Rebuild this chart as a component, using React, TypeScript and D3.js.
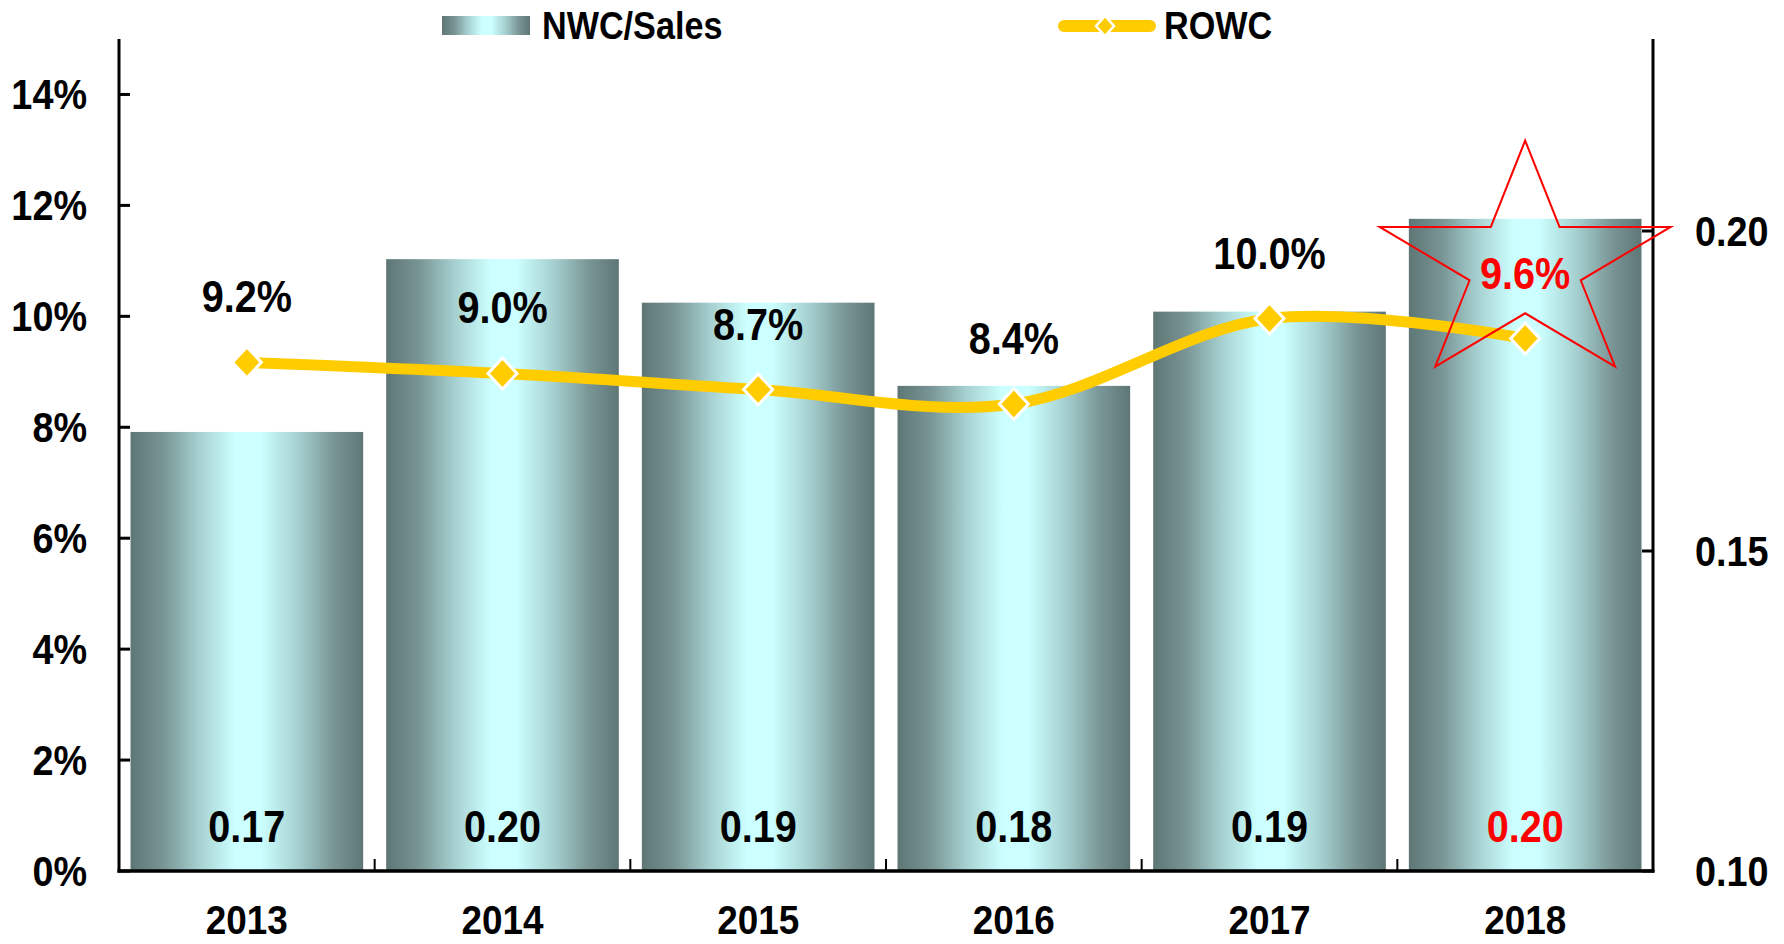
import React from "react";
import * as d3 from "d3";

const categories = ["2013", "2014", "2015", "2016", "2017", "2018"];
// Bars (right axis)
const nwcSales = [0.1686, 0.1956, 0.1888, 0.1758, 0.1874, 0.2019];
// Line (left axis, %)
const rowc = [9.17, 8.97, 8.68, 8.42, 9.96, 9.6];
const leftTicks = [0, 2, 4, 6, 8, 10, 12, 14];
const rightTicks = [0.1, 0.15, 0.2];
const highlightIndex = 5;
const legendBar = "NWC/Sales";
const legendLine = "ROWC";

const W = 1784;
const H = 944;
const FONT = "'Liberation Sans', Arial, Helvetica, sans-serif";
const SX = 0.9;

function T({ x, y, size, anchor = "middle", fill = "#000", children }: any) {
  return (
    <text
      transform={`translate(${x},${y}) scale(${SX},1)`}
      fontFamily={FONT}
      fontWeight="bold"
      fontSize={size}
      textAnchor={anchor}
      fill={fill}
    >
      {children}
    </text>
  );
}

function starPoints(cx: number, cy: number, rx: number, ry: number, ratio: number) {
  const pts: string[] = [];
  for (let i = 0; i < 10; i++) {
    const a = -Math.PI / 2 + (i * Math.PI) / 5;
    const r = i % 2 === 0 ? 1 : ratio;
    pts.push(`${cx + Math.cos(a) * rx * r},${cy + Math.sin(a) * ry * r}`);
  }
  return pts.join(" ");
}

function diamond(r: number, rh: number) {
  return `M0,${-rh}L${r},0L0,${rh}L${-r},0Z`;
}

export default function App() {
  const left = 119;
  const right = 1653;
  const top = 39;
  const bottom = 871;

  const x = d3
    .scaleBand<string>()
    .domain(categories)
    .range([left, right])
    .paddingInner(0.09)
    .paddingOuter(0.045);
  const yL = d3.scaleLinear().domain([0, 15]).range([bottom, top]);
  const yR = d3.scaleLinear().domain([0.1, 0.23]).range([bottom, top]);
  const bw = x.bandwidth();
  const cx = (c: string) => (x(c) as number) + bw / 2;

  const step = (right - left) / categories.length;
  const boundaries = d3.range(1, categories.length).map((k) => left + k * step);

  const linePath = d3
    .line<number>()
    .x((_, i) => cx(categories[i]))
    .y((v) => yL(v))
    .curve(d3.curveCardinal.tension(0))(rowc) as string;

  const hx = cx(categories[highlightIndex]);
  const hy = yL(rowc[highlightIndex]);

  return (
    <svg
      width={W}
      height={H}
      style={{ position: "absolute", left: 0, top: 0, background: "#fff" }}
    >
      <defs>
        <linearGradient id="barGrad" x1="0" x2="1" y1="0" y2="0">
          <stop offset="0" stopColor="#5E7676" />
          <stop offset="0.14" stopColor="#789494" />
          <stop offset="0.3" stopColor="#A8D2D2" />
          <stop offset="0.45" stopColor="#CCFFFF" />
          <stop offset="0.56" stopColor="#CCFFFF" />
          <stop offset="0.72" stopColor="#A6D0D0" />
          <stop offset="0.87" stopColor="#7A9696" />
          <stop offset="1" stopColor="#5E7676" />
        </linearGradient>
      </defs>

      {/* bars */}
      {categories.map((c, i) => (
        <rect
          key={c}
          x={x(c)}
          y={yR(nwcSales[i])}
          width={bw}
          height={bottom - yR(nwcSales[i])}
          fill="url(#barGrad)"
        />
      ))}

      {/* axes */}
      <line x1={left} x2={left} y1={top} y2={bottom + 1.5} stroke="#000" strokeWidth={3} />
      <line x1={right} x2={right} y1={top} y2={bottom + 1.5} stroke="#000" strokeWidth={3} />
      <line x1={left - 1.5} x2={right + 1.5} y1={bottom} y2={bottom} stroke="#000" strokeWidth={3.5} />
      {leftTicks.map((t) => (
        <g key={"lt" + t}>
          <line x1={left} x2={left + 11} y1={yL(t)} y2={yL(t)} stroke="#000" strokeWidth={3} />
          <T x={87} y={yL(t) + 15} size={42} anchor="end">{`${t}%`}</T>
        </g>
      ))}
      {rightTicks.map((t) => (
        <g key={"rt" + t}>
          <line x1={right - 11} x2={right} y1={yR(t)} y2={yR(t)} stroke="#000" strokeWidth={3} />
          <T x={1695} y={yR(t) + 15} size={42} anchor="start">{t.toFixed(2)}</T>
        </g>
      ))}
      {boundaries.map((b, k) => (
        <line key={"bt" + k} x1={b} x2={b} y1={bottom} y2={bottom - 12} stroke="#000" strokeWidth={2} />
      ))}
      {categories.map((c) => (
        <T key={"xl" + c} x={cx(c)} y={934} size={41}>{c}</T>
      ))}

      {/* line */}
      <path d={linePath} fill="none" stroke="#FFCC00" strokeWidth={11} strokeLinecap="round" />
      {rowc.map((v, i) => (
        <path
          key={"m" + i}
          d={diamond(14.5, 15.5)}
          transform={`translate(${cx(categories[i])},${yL(v)})`}
          fill="#FFCC00"
          stroke="#fff"
          strokeWidth={3}
        />
      ))}

      {/* star highlight */}
      <polygon
        points={starPoints(hx, hy - 73, 153, 125, 0.382)}
        fill="none"
        stroke="#FF0000"
        strokeWidth={2}
      />

      {/* line labels */}
      {rowc.map((v, i) => (
        <T
          key={"ll" + i}
          x={cx(categories[i])}
          y={yL(v) - 50}
          size={44}
          fill={i === highlightIndex ? "#FF0000" : "#000"}
        >{`${v.toFixed(1)}%`}</T>
      ))}

      {/* bar labels */}
      {nwcSales.map((v, i) => (
        <T
          key={"bl" + i}
          x={cx(categories[i])}
          y={842}
          size={44}
          fill={i === highlightIndex ? "#FF0000" : "#000"}
        >{v.toFixed(2)}</T>
      ))}

      {/* legend */}
      <rect x={442} y={16} width={88} height={19} fill="url(#barGrad)" />
      <T x={542} y={39} size={38} anchor="start">{legendBar}</T>
      <line x1={1064} x2={1150} y1={26} y2={26} stroke="#FFCC00" strokeWidth={12} strokeLinecap="round" />
      <path d={diamond(9, 10)} transform="translate(1105,26)" fill="#FFCC00" stroke="#fff" strokeWidth={2.5} />
      <T x={1164} y={39} size={38} anchor="start">{legendLine}</T>
    </svg>
  );
}
